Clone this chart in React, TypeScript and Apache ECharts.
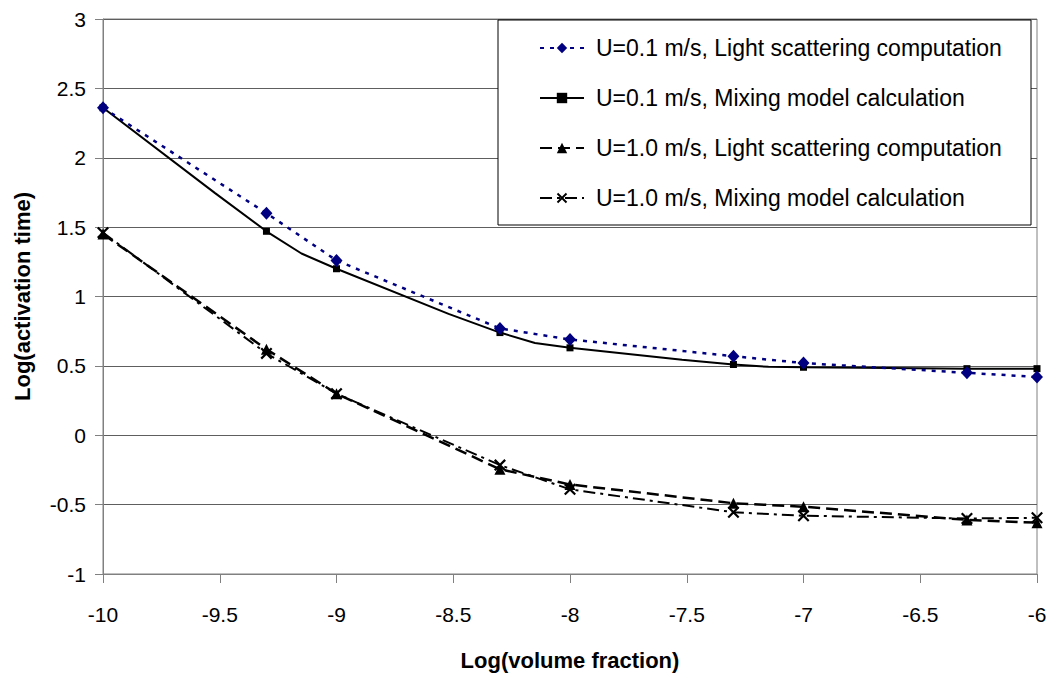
import React, { useEffect, useRef } from "react";
import * as echarts from "echarts";

// Log(volume fraction) sample positions
const volumeFraction = [-10, -9.3, -9, -8.3, -8, -7.3, -7, -6.3, -6];

// U=0.1 m/s, light scattering computation
const u01Light = [2.36, 1.6, 1.26, 0.77, 0.69, 0.57, 0.52, 0.45, 0.42];

// U=0.1 m/s, mixing model calculation (computed at more fractions; markers only at the sample positions)
const u01MixX = [-10, -9.52, -9.3, -9.15, -9, -8.52, -8.3, -8.15, -8, -7.52, -7.3, -7.15, -7, -6.52, -6.3, -6.15, -6];
const u01MixY = [2.36, 1.745, 1.47, 1.31, 1.2, 0.875, 0.74, 0.665, 0.63, 0.545, 0.51, 0.493, 0.49, 0.483, 0.48, 0.48, 0.48];

// U=1.0 m/s, light scattering computation
const u10Light = [1.45, 0.62, 0.3, -0.245, -0.355, -0.49, -0.515, -0.61, -0.63];

// U=1.0 m/s, mixing model calculation
const u10Mix = [1.46, 0.59, 0.3, -0.215, -0.39, -0.555, -0.58, -0.6, -0.595];

const seriesNames = [
  "U=0.1 m/s, Light scattering computation",
  "U=0.1 m/s, Mixing model calculation",
  "U=1.0 m/s, Light scattering computation",
  "U=1.0 m/s, Mixing model calculation",
];

const X_MARK = "path://M0,1.3L1.3,0L10,8.7L8.7,10Z M8.7,0L10,1.3L1.3,10L0,8.7Z";
const FONT = "Liberation Sans, Arial, sans-serif";

export default function App() {
  const ref = useRef<HTMLDivElement>(null);

  useEffect(() => {
    document.body.style.margin = "0";
    const chart = echarts.init(ref.current!, null, { renderer: "svg" });

    const pairs = (ys: number[]) => volumeFraction.map((x, i) => [x, ys[i]]);
    const mixData = u01MixX.map((x, i) =>
      volumeFraction.includes(x)
        ? { value: [x, u01MixY[i]] }
        : { value: [x, u01MixY[i]], symbol: "none" }
    );

    chart.setOption({
      animation: false,
      backgroundColor: "#fff",
      textStyle: { fontFamily: FONT },
      grid: {
        left: 103,
        right: 20,
        top: 19,
        bottom: 105,
        show: true,
        borderColor: "#808080",
        borderWidth: 1,
      },
      xAxis: {
        type: "value",
        min: -10,
        max: -6,
        interval: 0.5,
        name: "Log(volume fraction)",
        nameLocation: "middle",
        nameGap: 75,
        nameTextStyle: { fontFamily: FONT, fontSize: 22, fontWeight: "bold", color: "#000" },
        axisLine: { onZero: false, lineStyle: { color: "#808080", width: 1 } },
        axisTick: { show: true, length: 9, lineStyle: { color: "#808080" } },
        axisLabel: { fontFamily: FONT, fontSize: 21, color: "#000", margin: 30 },
        splitLine: { show: false },
      },
      yAxis: {
        type: "value",
        min: -1,
        max: 3,
        interval: 0.5,
        name: "Log(activation time)",
        nameLocation: "middle",
        nameRotate: 90,
        nameGap: 70,
        nameTextStyle: { fontFamily: FONT, fontSize: 22, fontWeight: "bold", color: "#000" },
        axisLine: { show: true, onZero: false, lineStyle: { color: "#808080", width: 1 } },
        axisTick: { show: true, length: 8, lineStyle: { color: "#808080" } },
        axisLabel: { fontFamily: FONT, fontSize: 21, color: "#000", margin: 17 },
        splitLine: { show: true, lineStyle: { color: "#5e5e5e", width: 1 } },
      },
      graphic: [
        {
          type: "rect",
          z: 3,
          shape: { x: 498, y: 20, width: 533, height: 205 },
          style: { fill: "#fff", stroke: "#000", lineWidth: 1 },
        },
      ],
      legend: {
        orient: "vertical",
        left: 539,
        top: 36,
        padding: 0,
        itemWidth: 44,
        itemHeight: 13,
        itemGap: 26,
        z: 5,
        textStyle: {
          fontFamily: FONT,
          fontSize: 23,
          color: "#000",
          lineHeight: 24,
          padding: [0, 0, 0, 7],
        },
        data: seriesNames,
      },
      series: [
        {
          name: seriesNames[0],
          type: "line",
          data: pairs(u01Light),
          symbol: "diamond",
          symbolSize: [12, 13],
          itemStyle: { color: "#000080" },
          lineStyle: { color: "#000080", width: 2.5, type: [4, 6] },
          z: 4,
        },
        {
          name: seriesNames[1],
          type: "line",
          data: mixData,
          symbol: "rect",
          symbolSize: 7,
          itemStyle: { color: "#000" },
          lineStyle: { color: "#000", width: 2 },
          z: 3,
        },
        {
          name: seriesNames[2],
          type: "line",
          data: pairs(u10Light),
          symbol: "triangle",
          symbolSize: 11,
          itemStyle: { color: "#000" },
          lineStyle: { color: "#000", width: 2.5, type: [12, 6] },
          z: 3,
        },
        {
          name: seriesNames[3],
          type: "line",
          data: pairs(u10Mix),
          symbol: X_MARK,
          symbolSize: 12,
          itemStyle: { color: "#000" },
          lineStyle: { color: "#000", width: 2, type: [12, 5, 3, 5] },
          z: 3,
        },
      ],
    });

    return () => chart.dispose();
  }, []);

  return (
    <div
      ref={ref}
      style={{ position: "fixed", left: 0, top: 0, width: 1057, height: 679 }}
    />
  );
}
